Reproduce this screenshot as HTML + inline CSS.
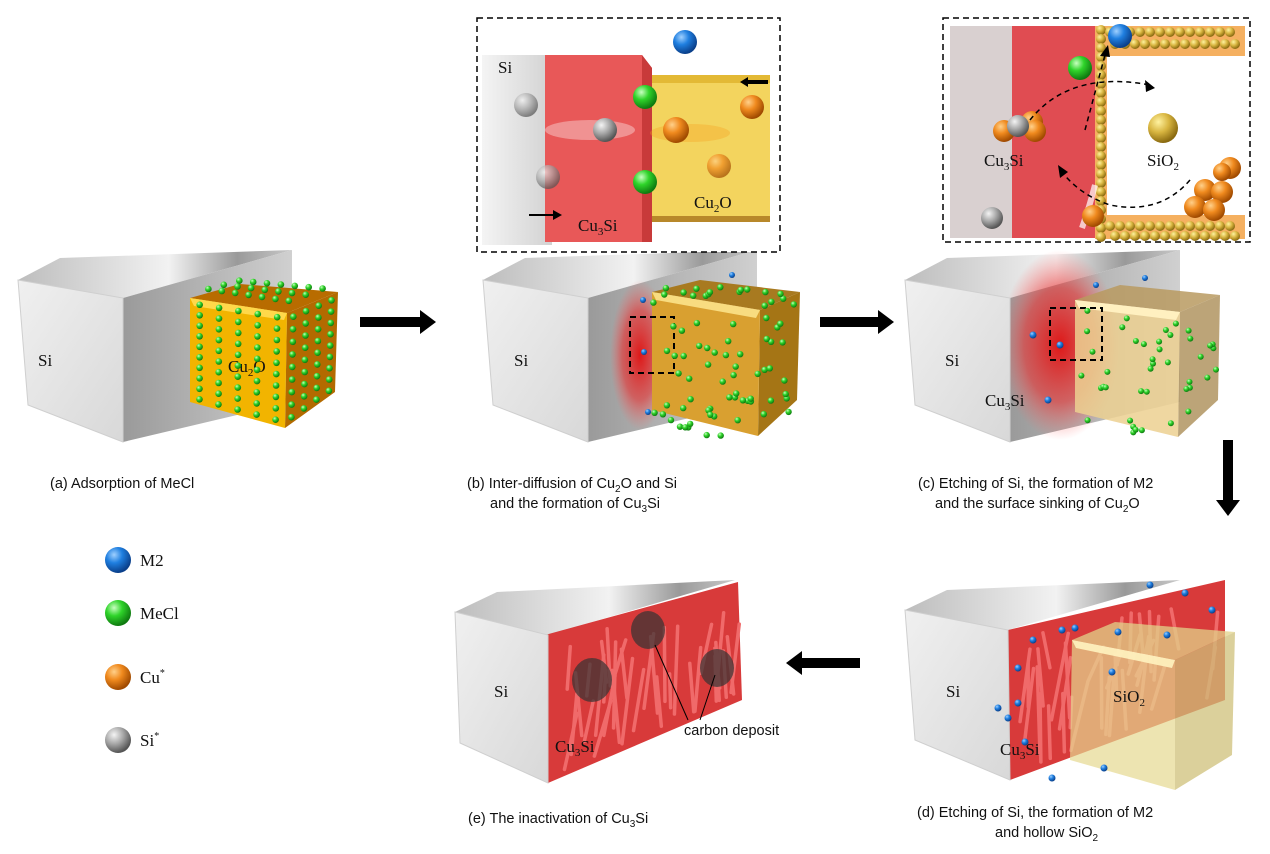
<!DOCTYPE html>
<html><head><meta charset="utf-8">
<style>
html,body{margin:0;padding:0;background:#fff;}
svg{display:block;}
.cap{font-family:"Liberation Sans",sans-serif;font-size:14.5px;fill:#111;}
.lbl{font-family:"Liberation Serif",serif;font-size:17px;fill:#111;}
.leg{font-family:"Liberation Serif",serif;font-size:17px;fill:#111;}
</style></head><body>
<svg id="s" width="1270" height="854" viewBox="0 0 1270 854" xmlns="http://www.w3.org/2000/svg">
<defs>
<radialGradient id="gB" cx="35%" cy="30%" r="70%"><stop offset="0" stop-color="#9fd0ff"/><stop offset=".45" stop-color="#1f7fe0"/><stop offset="1" stop-color="#0a3f8a"/></radialGradient>
<radialGradient id="gG" cx="35%" cy="30%" r="70%"><stop offset="0" stop-color="#c8ffc0"/><stop offset=".45" stop-color="#2fd42a"/><stop offset="1" stop-color="#0f7a10"/></radialGradient>
<radialGradient id="gO" cx="35%" cy="30%" r="70%"><stop offset="0" stop-color="#ffd08a"/><stop offset=".45" stop-color="#f08a1e"/><stop offset="1" stop-color="#a04a00"/></radialGradient>
<radialGradient id="gS" cx="35%" cy="30%" r="70%"><stop offset="0" stop-color="#f4f4f4"/><stop offset=".5" stop-color="#a8a8a8"/><stop offset="1" stop-color="#555"/></radialGradient>
<radialGradient id="gY" cx="35%" cy="30%" r="70%"><stop offset="0" stop-color="#fff2a0"/><stop offset=".5" stop-color="#d8b540"/><stop offset="1" stop-color="#8a6a10"/></radialGradient>
<linearGradient id="top" x1="0" y1="0" x2="1" y2="0"><stop offset="0" stop-color="#bdbdbd"/><stop offset=".55" stop-color="#f2f2f2"/><stop offset=".8" stop-color="#9a9a9a"/><stop offset="1" stop-color="#c8c8c8"/></linearGradient>
<linearGradient id="side" x1="0" y1="0" x2="1" y2="0"><stop offset="0" stop-color="#9a9a9a"/><stop offset="1" stop-color="#d0d0d0"/></linearGradient>
<linearGradient id="front" x1="0" y1="0" x2="1" y2="1"><stop offset="0" stop-color="#f0f0f0"/><stop offset="1" stop-color="#d8d8d8"/></linearGradient>
<linearGradient id="siIn" x1="0" y1="0" x2="1" y2="0"><stop offset="0" stop-color="#f4f4f4"/><stop offset="1" stop-color="#d2d2d2"/></linearGradient>
<radialGradient id="redGlow" cx="50%" cy="50%" r="50%"><stop offset="0" stop-color="#e01010" stop-opacity=".95"/><stop offset=".6" stop-color="#e83030" stop-opacity=".6"/><stop offset="1" stop-color="#ff6060" stop-opacity="0"/></radialGradient>
</defs>

<!-- ===== Panel a ===== -->
<g id="boxA">
<polygon points="18,280 60,258 292,250 123,298" fill="url(#top)"/>
<polygon points="123,298 292,250 292,402 123,442" fill="url(#side)"/>
<polygon points="18,280 123,298 123,442 28,405" fill="url(#front)" stroke="#cfcfcf"/>
</g>
<text class="lbl" x="38" y="366">Si</text>
<polygon points="190,298 240,284 338,292 287,313" fill="#b86c00"/>
<polygon points="287,313 338,292 335,392 285,428" fill="#b36a00"/>
<polygon points="190,298 287,313 285,428 190,402" fill="#f2b400"/>
<polygon points="190,298 287,313 284,320 194,306" fill="#ffd84a"/>
<text class="lbl" x="228" y="372">Cu<tspan font-size="11" dy="4">2</tspan><tspan dy="-4">O</tspan></text>
<g id="dotsA"></g>

<!-- arrow a->b -->
<polygon points="360,317 420,317 420,310 436,322 420,334 420,327 360,327" fill="#000"/>

<!-- ===== Panel b ===== -->
<polygon points="483,280 525,258 757,250 588,298" fill="url(#top)"/>
<polygon points="588,298 757,250 757,402 588,442" fill="url(#side)"/>
<ellipse cx="640" cy="355" rx="30" ry="75" fill="url(#redGlow)"/>
<polygon points="483,280 588,298 588,442 493,405" fill="url(#front)" stroke="#cfcfcf"/>
<text class="lbl" x="514" y="366">Si</text>
<polygon points="652,292 700,280 800,292 760,310" fill="#a87a20"/>
<polygon points="760,310 800,292 797,400 758,436" fill="#a57515"/>
<polygon points="652,292 760,310 758,436 652,410" fill="#d9a030"/>
<polygon points="652,292 760,310 756,318 656,300" fill="#f8dc80"/>
<rect x="630" y="317" width="44" height="56" fill="none" stroke="#000" stroke-width="2" stroke-dasharray="6,4"/>
<g id="dotsB"></g>

<!-- inset b -->
<rect x="477" y="18" width="303" height="234" fill="#fff" stroke="#000" stroke-width="1.5" stroke-dasharray="6,4"/>
<rect x="482" y="55" width="70" height="190" fill="url(#siIn)"/>
<rect x="650" y="75" width="120" height="147" fill="#f3d45e"/>
<rect x="650" y="75" width="120" height="8" fill="#e3b935"/>
<rect x="650" y="216" width="120" height="6" fill="#b8882a"/>
<polygon points="545,55 642,55 652,68 652,242 545,242" fill="#e85858"/>
<polygon points="642,55 652,68 652,242 642,242" fill="#c83a3a"/>
<ellipse cx="590" cy="130" rx="45" ry="10" fill="#fff" opacity=".35"/>
<ellipse cx="690" cy="133" rx="40" ry="9" fill="#f5a020" opacity=".35"/>
<text class="lbl" x="498" y="73">Si</text>
<circle cx="685" cy="42" r="12" fill="url(#gB)"/>
<circle cx="526" cy="105" r="12" fill="url(#gS)" opacity=".7"/>
<circle cx="605" cy="130" r="12" fill="url(#gS)"/>
<circle cx="548" cy="177" r="12" fill="url(#gS)" opacity=".7"/>
<circle cx="645" cy="97" r="12" fill="url(#gG)"/>
<circle cx="645" cy="182" r="12" fill="url(#gG)"/>
<circle cx="676" cy="130" r="13" fill="url(#gO)"/>
<circle cx="752" cy="107" r="12" fill="url(#gO)"/>
<circle cx="719" cy="166" r="12" fill="url(#gO)" opacity=".7"/>
<polygon points="740,80 760,80 760,77 768,82 760,87 760,84 740,84" transform="rotate(180 754 82)" fill="#000"/>
<polygon points="529,214 553,214 553,210 562,215 553,220 553,216 529,216" fill="#000"/>
<text class="lbl" x="578" y="231">Cu<tspan font-size="11" dy="4">3</tspan><tspan dy="-4">Si</tspan></text>
<text class="lbl" x="694" y="208">Cu<tspan font-size="11" dy="4">2</tspan><tspan dy="-4">O</tspan></text>

<!-- arrow b->c -->
<polygon points="820,317 878,317 878,310 894,322 878,334 878,327 820,327" fill="#000"/>

<!-- ===== Panel c ===== -->
<polygon points="905,280 947,258 1180,250 1010,298" fill="url(#top)"/>
<polygon points="1010,298 1180,250 1180,402 1010,442" fill="url(#side)"/>
<ellipse cx="1060" cy="345" rx="60" ry="95" fill="url(#redGlow)"/>
<polygon points="905,280 1010,298 1010,442 915,405" fill="url(#front)" stroke="#cfcfcf"/>
<text class="lbl" x="945" y="366">Si</text>
<text class="lbl" x="985" y="406">Cu<tspan font-size="11" dy="4">3</tspan><tspan dy="-4">Si</tspan></text>
<polygon points="1075,300 1120,285 1220,295 1180,312" fill="#b89a60" opacity=".85"/>
<polygon points="1180,312 1220,295 1218,400 1178,437" fill="#b09460" opacity=".85"/>
<polygon points="1075,300 1180,312 1178,437 1075,412" fill="#ecd090" opacity=".85"/>
<polygon points="1075,300 1180,312 1176,320 1079,308" fill="#fff0c0"/>
<rect x="1050" y="308" width="52" height="52" fill="none" stroke="#000" stroke-width="2" stroke-dasharray="6,4"/>
<g id="dotsC"></g>

<!-- inset c -->
<rect x="943" y="18" width="307" height="224" fill="#fff" stroke="#000" stroke-width="1.5" stroke-dasharray="6,4"/>
<rect x="950" y="26" width="65" height="212" fill="#d9d0d0"/>
<rect x="1012" y="26" width="85" height="212" fill="#e04c52"/>
<rect x="1095" y="26" width="150" height="30" fill="#f5b060"/>
<rect x="1095" y="215" width="150" height="24" fill="#f5b060"/>
<rect x="1095" y="26" width="12" height="212" fill="#f5b060"/>
<rect x="1107" y="56" width="138" height="159" fill="#fff"/>
<g id="beads"></g>
<path d="M1082,228 Q1090,205 1095,185" stroke="#fff" stroke-width="6" fill="none" opacity=".7"/>
<circle cx="1120" cy="36" r="12" fill="url(#gB)"/>
<circle cx="1080" cy="68" r="12" fill="url(#gG)"/>
<circle cx="1032" cy="122" r="11" fill="url(#gO)"/>
<circle cx="1004" cy="131" r="11" fill="url(#gO)"/>
<circle cx="1035" cy="131" r="11" fill="url(#gO)"/>
<circle cx="1018" cy="126" r="11" fill="url(#gS)"/>
<circle cx="1093" cy="216" r="11" fill="url(#gO)"/>
<circle cx="992" cy="218" r="11" fill="url(#gS)"/>
<circle cx="1163" cy="128" r="15" fill="url(#gY)"/>
<g>
<circle cx="1205" cy="190" r="11" fill="url(#gO)"/><circle cx="1222" cy="192" r="11" fill="url(#gO)"/>
<circle cx="1195" cy="207" r="11" fill="url(#gO)"/><circle cx="1214" cy="210" r="11" fill="url(#gO)"/>
<circle cx="1230" cy="168" r="11" fill="url(#gO)"/><circle cx="1222" cy="172" r="9" fill="url(#gO)"/>
</g>
<path d="M1030,120 Q1070,70 1150,85" stroke="#000" stroke-width="1.5" fill="none" stroke-dasharray="5,4"/>
<polygon points="1155,88 1145,80 1146,92" fill="#000"/>
<path d="M1085,130 L1105,55" stroke="#000" stroke-width="1.5" fill="none" stroke-dasharray="5,4"/>
<polygon points="1108,45 1100,56 1110,57" fill="#000"/>
<path d="M1190,180 Q1160,215 1110,205 Q1080,195 1062,172" stroke="#000" stroke-width="1.5" fill="none" stroke-dasharray="5,4"/>
<polygon points="1058,165 1060,178 1068,172" fill="#000"/>
<text class="lbl" x="984" y="166">Cu<tspan font-size="11" dy="4">3</tspan><tspan dy="-4">Si</tspan></text>
<text class="lbl" x="1147" y="166">SiO<tspan font-size="11" dy="4">2</tspan></text>

<!-- down arrow -->
<polygon points="1223,440 1233,440 1233,500 1240,500 1228,516 1216,500 1223,500" fill="#000"/>

<!-- ===== Panel d ===== -->
<polygon points="905,610 947,590 1180,580 1008,630" fill="url(#top)"/>
<polygon points="1008,630 1225,580 1225,700 1010,780" fill="#d83a3a"/>
<g id="stripesD"></g>
<polygon points="905,610 1008,630 1010,780 915,740" fill="url(#front)" stroke="#cfcfcf"/>
<text class="lbl" x="946" y="697">Si</text>
<text class="lbl" x="1000" y="755">Cu<tspan font-size="11" dy="4">3</tspan><tspan dy="-4">Si</tspan></text>
<polygon points="1072,640 1115,622 1235,632 1175,660" fill="#e2d38a" opacity=".75"/>
<polygon points="1175,660 1235,632 1232,755 1175,790" fill="#cfc07a" opacity=".75"/>
<polygon points="1072,640 1175,660 1175,790 1070,760" fill="#e6d890" opacity=".7"/>
<polygon points="1072,640 1175,660 1172,668 1076,648" fill="#fff3c0" opacity=".9"/>
<text class="lbl" x="1113" y="702">SiO<tspan font-size="11" dy="4">2</tspan></text>
<g id="dotsD"></g>

<!-- left arrow -->
<polygon points="860,658 802,658 802,651 786,663 802,675 802,668 860,668" fill="#000"/>

<!-- ===== Panel e ===== -->
<polygon points="455,612 497,592 735,580 548,635" fill="url(#top)"/>
<polygon points="545,635 738,582 742,700 548,783" fill="#d83a3a"/>
<g id="stripesE"></g>
<ellipse cx="592" cy="680" rx="20" ry="22" fill="#333" opacity=".7"/>
<ellipse cx="648" cy="630" rx="17" ry="19" fill="#333" opacity=".7"/>
<ellipse cx="717" cy="668" rx="17" ry="19" fill="#333" opacity=".7"/>
<polygon points="455,612 548,635 548,783 460,743" fill="url(#front)" stroke="#cfcfcf"/>
<text class="lbl" x="494" y="697">Si</text>
<text class="lbl" x="555" y="752">Cu<tspan font-size="11" dy="4">3</tspan><tspan dy="-4">Si</tspan></text>
<line x1="655" y1="645" x2="688" y2="720" stroke="#000" stroke-width="1"/>
<line x1="715" y1="675" x2="700" y2="720" stroke="#000" stroke-width="1"/>
<text class="cap" x="684" y="735">carbon deposit</text>

<!-- legend -->
<circle cx="118" cy="560" r="13" fill="url(#gB)"/><text class="leg" x="140" y="566">M2</text>
<circle cx="118" cy="613" r="13" fill="url(#gG)"/><text class="leg" x="140" y="619">MeCl</text>
<circle cx="118" cy="677" r="13" fill="url(#gO)"/><text class="leg" x="140" y="683">Cu<tspan font-size="10" dy="-7">*</tspan></text>
<circle cx="118" cy="740" r="13" fill="url(#gS)"/><text class="leg" x="140" y="746">Si<tspan font-size="10" dy="-7">*</tspan></text>

<!-- captions -->
<text class="cap" x="50" y="488">(a) Adsorption of MeCl</text>
<text class="cap" x="467" y="488">(b) Inter-diffusion of Cu<tspan font-size="10" dy="4">2</tspan><tspan dy="-4">O and Si</tspan></text>
<text class="cap" x="490" y="508">and the formation of Cu<tspan font-size="10" dy="4">3</tspan><tspan dy="-4">Si</tspan></text>
<text class="cap" x="918" y="488">(c) Etching of Si, the formation of M2</text>
<text class="cap" x="935" y="508">and the surface sinking of Cu<tspan font-size="10" dy="4">2</tspan><tspan dy="-4">O</tspan></text>
<text class="cap" x="917" y="817">(d) Etching of Si, the formation of M2</text>
<text class="cap" x="995" y="837">and hollow SiO<tspan font-size="10" dy="4">2</tspan></text>
<text class="cap" x="468" y="823">(e) The inactivation of Cu<tspan font-size="10" dy="4">3</tspan><tspan dy="-4">Si</tspan></text>
</svg>
<script>
var NS="http://www.w3.org/2000/svg";
function c(g,x,y,r,f,o){var e=document.createElementNS(NS,"circle");e.setAttribute("cx",x.toFixed(1));e.setAttribute("cy",y.toFixed(1));e.setAttribute("r",r);e.setAttribute("fill",f);if(o)e.setAttribute("opacity",o);document.getElementById(g).appendChild(e);}
function quad(g,p00,p10,p01,p11,nu,nv,r,f,skip){var k=0;for(var i=0;i<nu;i++)for(var j=0;j<nv;j++){k++;if(skip&&(k%skip))continue;var u=(i+.5)/nu,v=(j+.5)/nv;
var x=(1-u)*(1-v)*p00[0]+u*(1-v)*p10[0]+(1-u)*v*p01[0]+u*v*p11[0];
var y=(1-u)*(1-v)*p00[1]+u*(1-v)*p10[1]+(1-u)*v*p01[1]+u*v*p11[1];c(g,x,y,r,f);}}
// panel a
quad("dotsA",[190,298],[287,313],[190,402],[285,428],5,10,3.3,"url(#gG)");
quad("dotsA",[287,313],[338,292],[285,428],[335,392],4,9,3.3,"url(#gG)");
quad("dotsA",[194,290],[287,305],[240,278],[338,286],7,3,3.3,"url(#gG)");
// panel b
var s=1;function rnd(){s=(s*9301+49297)%233280;return s/233280;}
for(var i=0;i<45;i++){var u=rnd(),v=rnd();c("dotsB",652+u*106,300+v*130+u*10,3.2,"url(#gG)");}
for(var i=0;i<18;i++){var u=rnd(),v=rnd();c("dotsB",762+u*36,305+v*120-u*15,3.2,"url(#gG)");}
for(var i=0;i<14;i++){var u=rnd();c("dotsB",660+u*130,286+rnd()*10,3.2,"url(#gG)");}
c("dotsB",643,300,3,"url(#gB)");c("dotsB",644,352,3,"url(#gB)");c("dotsB",648,412,3,"url(#gB)");c("dotsB",732,275,3,"url(#gB)");
// panel c
for(var i=0;i<30;i++){var u=rnd(),v=rnd();c("dotsC",1078+u*100,310+v*120+u*8,3,"url(#gG)");}
for(var i=0;i<12;i++){var u=rnd(),v=rnd();c("dotsC",1182+u*34,305+v*115-u*15,3,"url(#gG)");}
c("dotsC",1033,335,3.5,"url(#gB)");c("dotsC",1060,345,3.5,"url(#gB)");c("dotsC",1048,400,3.5,"url(#gB)");c("dotsC",1096,285,3,"url(#gB)");c("dotsC",1145,278,3,"url(#gB)");
// beads
for(var y=30;y<238;y+=9){c("beads",1101,y,5,"url(#gY)");}
for(var x=1110;x<1240;x+=10){c("beads",x,32,5,"url(#gY)");c("beads",x+5,44,5,"url(#gY)");c("beads",x,226,5,"url(#gY)");c("beads",x+5,236,5,"url(#gY)");}
// stripes
function stripes(g,x0,x1,yt0,yt1,yb0,yb1,seed){s=seed;var grp=document.getElementById(g);
for(var i=0;i<34;i++){var u=rnd();var x=x0+u*(x1-x0);var yt=yt0+u*(yt1-yt0)+8;var yb=yb0+u*(yb1-yb0)-8;
var a=rnd()*(yb-yt)*0.6;var len=30+rnd()*60;var y=yt+a;var dx=(rnd()-.3)*25;
var l=document.createElementNS(NS,"line");l.setAttribute("x1",x);l.setAttribute("y1",Math.min(y+len,yb));l.setAttribute("x2",x+dx);l.setAttribute("y2",y);
l.setAttribute("stroke","#f06a6a");l.setAttribute("stroke-width","3.5");l.setAttribute("stroke-linecap","round");grp.appendChild(l);}}
stripes("stripesD",1015,1222,630,582,780,700,7);
stripes("stripesE",552,738,635,584,783,700,3);
var bd=[[1033,640],[1062,630],[1075,628],[1018,668],[1018,703],[1008,718],[998,708],[1025,742],[1052,778],[1104,768],[1112,672],[1118,632],[1150,585],[1185,593],[1212,610],[1167,635]];
bd.forEach(function(p){c("dotsD",p[0],p[1],3.5,"url(#gB)");});
</script>
</body></html>
